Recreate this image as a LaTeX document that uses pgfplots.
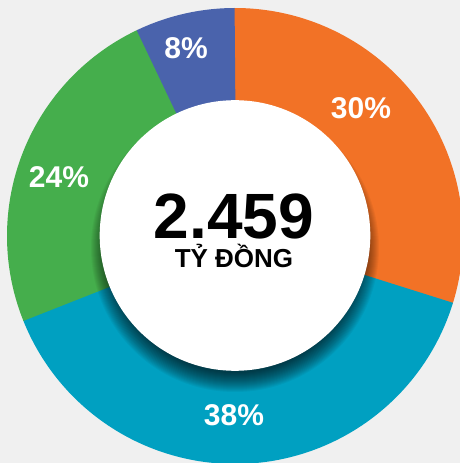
\documentclass[border=0pt]{standalone}
\usepackage{pgfplots}
\usepackage{pgfplotstable}
\pgfplotsset{compat=1.18}
\usepackage{fontspec}
\setmainfont{Liberation Sans}
\definecolor{bggray}{RGB}{240,240,240}
\definecolor{cOrange}{RGB}{242,114,38}
\definecolor{cTeal}{RGB}{0,160,193}
\definecolor{cGreen}{RGB}{69,174,76}
\definecolor{cBlue}{RGB}{74,99,172}
\pgfplotstableread{
share label lx ly
29.7 30 361 355
39.2 38 234 48
24.0 24 59 286
7.1 8 186 415
}\donutdata
\begin{document}
\pgfplotstablegetelem{0}{share}\of\donutdata\pgfmathsetmacro\sA{\pgfplotsretval}%
\pgfplotstablegetelem{1}{share}\of\donutdata\pgfmathsetmacro\sB{\pgfplotsretval}%
\pgfplotstablegetelem{2}{share}\of\donutdata\pgfmathsetmacro\sC{\pgfplotsretval}%
\pgfplotstablegetelem{3}{share}\of\donutdata\pgfmathsetmacro\sD{\pgfplotsretval}%
\pgfmathsetmacro\bA{90}%
\pgfmathsetmacro\bB{\bA-3.6*\sA}%
\pgfmathsetmacro\bC{\bB-3.6*\sB}%
\pgfmathsetmacro\bD{\bC-3.6*\sC}%
\pgfmathsetmacro\bE{\bD-3.6*\sD}%
% slight overlaps under the next segment, to avoid seams
\pgfmathsetmacro\oA{\bA+0.4}%
\pgfmathsetmacro\oB{\bB-0.4}%
\pgfmathsetmacro\oC{\bC-0.4}%
\pgfmathsetmacro\oD{\bD-0.4}%
\begin{tikzpicture}
\begin{axis}[
  width=460pt, height=463pt, scale only axis,
  xmin=0, xmax=460, ymin=0, ymax=463,
  hide axis, clip=true,
]
\fill[bggray] (rel axis cs:0,0) rectangle (rel axis cs:1,1);
\addplot[draw=cOrange, line width=100pt, line cap=butt, domain=\oB:\oA, samples=120, no marks] ({235+178*cos(x)},{227+178*sin(x)});
\addplot[draw=cTeal, line width=100pt, line cap=butt, domain=\oC:\bB, samples=120, no marks] ({235+178*cos(x)},{227+178*sin(x)});
\addplot[draw=cGreen, line width=100pt, line cap=butt, domain=\oD:\bC, samples=120, no marks] ({235+178*cos(x)},{227+178*sin(x)});
\addplot[draw=cBlue, line width=100pt, line cap=butt, domain=\bE:\bD, samples=60, no marks] ({235+178*cos(x)},{227+178*sin(x)});
\pgfplotsinvokeforeach{0,...,19}{
  \fill[black, opacity=0.045] (axis cs:235,215) circle[radius=125pt+#1pt];
}
\fill[white] (axis cs:235,227.5) circle[radius=135.3pt];
\addplot[only marks, mark=none, point meta=explicit symbolic,
  nodes near coords={\pgfplotspointmeta\%},
  nodes near coords style={white, font=\bfseries\fontsize{30}{30}\selectfont, anchor=center, inner sep=0pt}]
  table[x=lx, y=ly, meta=label] \donutdata;
\node[anchor=base, inner sep=0pt, font=\bfseries\fontsize{64}{64}\selectfont] at (axis cs:234,224) {2.459};
\node[anchor=base, inner sep=0pt, font=\bfseries\fontsize{26}{26}\selectfont] at (axis cs:234,195) {TỶ ĐỒNG};
\end{axis}
\pgfresetboundingbox
\path (current axis.south west) rectangle (current axis.north east);
\end{tikzpicture}
\end{document}
